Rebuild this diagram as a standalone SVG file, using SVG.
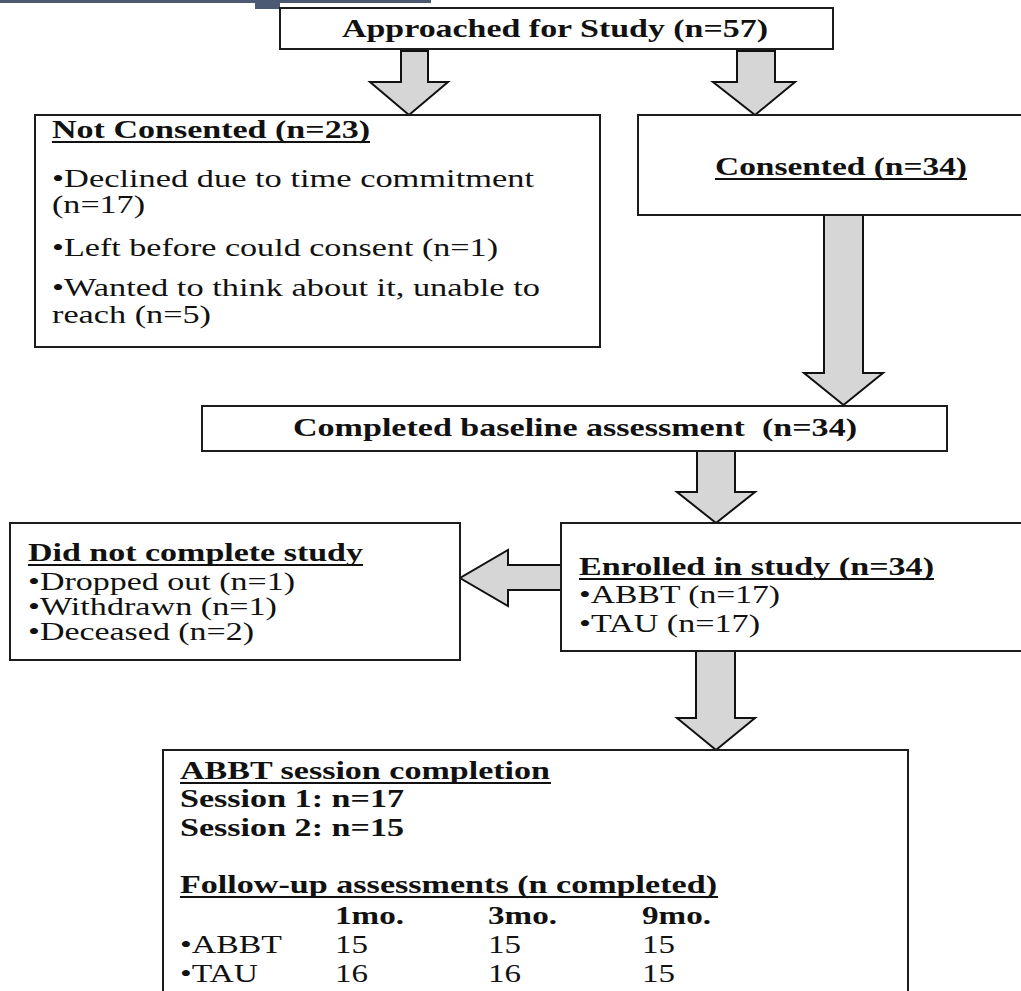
<svg xmlns="http://www.w3.org/2000/svg" width="1021" height="991" viewBox="0 0 1021 991">
<style>
.box{fill:#fff;stroke:#1c1c1c;stroke-width:2}
.arr{fill:#d6d6d6;stroke:#111;stroke-width:2;stroke-linejoin:miter}
.t{font-family:"Liberation Serif","Times New Roman",serif;font-size:26px;fill:#111}
.b{font-weight:bold}
.ul{stroke:#111;stroke-width:2}
</style>
<rect width="1021" height="991" fill="#fff"/>
<g id="header-bar" fill="#4b5a72">
<rect x="0" y="0" width="431" height="3"/>
<rect x="255" y="0" width="25" height="9"/>
</g>
<g id="connectors">
<polygon class="arr" points="401,51 428,51 428,82 448,82 409,115 370,82 401,82"/>
<polygon class="arr" points="737,51 775,51 775,82 795,82 755,115 713,82 737,82"/>
<polygon class="arr" points="824,215 863,215 863,373 883,373 843.5,405 804,373 824,373"/>
<polygon class="arr" points="697,451 735,451 735,492 755,492 716,523 677,492 697,492"/>
<polygon class="arr" points="561,565 508,565 508,550 460,578 508,606 508,590 561,590"/>
<polygon class="arr" points="696,651 735,651 735,718 755,718 716,750 677,718 696,718"/>
</g>
<g id="approached">
<rect class="box" x="280" y="8" width="553" height="41"/>
<text class="t b" x="342" y="37" textLength="426" lengthAdjust="spacingAndGlyphs">Approached for Study (n=57)</text>
</g>
<g id="not-consented">
<rect class="box" x="35" y="115" width="565" height="232"/>
<text class="t b" x="52" y="138" textLength="318" lengthAdjust="spacingAndGlyphs">Not Consented (n=23)</text>
<line class="ul" x1="52" y1="142" x2="370" y2="142"/>
<text class="t" x="52" y="187" textLength="482" lengthAdjust="spacingAndGlyphs">•Declined due to time commitment</text>
<text class="t" x="52" y="213" textLength="93" lengthAdjust="spacingAndGlyphs">(n=17)</text>
<text class="t" x="52" y="256" textLength="446" lengthAdjust="spacingAndGlyphs">•Left before could consent (n=1)</text>
<text class="t" x="52" y="296" textLength="488" lengthAdjust="spacingAndGlyphs">•Wanted to think about it, unable to</text>
<text class="t" x="52" y="323" textLength="159" lengthAdjust="spacingAndGlyphs">reach (n=5)</text>
</g>
<g id="consented">
<rect class="box" x="638" y="115" width="400" height="100"/>
<text class="t b" x="715" y="175" textLength="252" lengthAdjust="spacingAndGlyphs">Consented (n=34)</text>
<line class="ul" x1="715" y1="179" x2="967" y2="179"/>
</g>
<g id="baseline">
<rect class="box" x="202" y="406" width="745" height="45"/>
<text class="t b" x="293" y="436" textLength="564" lengthAdjust="spacingAndGlyphs" xml:space="preserve">Completed baseline assessment  (n=34)</text>
</g>
<g id="did-not-complete">
<rect class="box" x="10" y="523" width="450" height="137"/>
<text class="t b" x="28" y="561" textLength="335" lengthAdjust="spacingAndGlyphs">Did not complete study</text>
<line class="ul" x1="28" y1="565" x2="363" y2="565"/>
<text class="t" x="28" y="590" textLength="267" lengthAdjust="spacingAndGlyphs">•Dropped out (n=1)</text>
<text class="t" x="28" y="615" textLength="249" lengthAdjust="spacingAndGlyphs">•Withdrawn (n=1)</text>
<text class="t" x="28" y="640" textLength="226" lengthAdjust="spacingAndGlyphs">•Deceased (n=2)</text>
</g>
<g id="enrolled">
<rect class="box" x="561" y="523" width="480" height="128"/>
<text class="t b" x="579" y="575" textLength="355" lengthAdjust="spacingAndGlyphs">Enrolled in study (n=34)</text>
<line class="ul" x1="579" y1="579" x2="934" y2="579"/>
<text class="t" x="579" y="603" textLength="201" lengthAdjust="spacingAndGlyphs">•ABBT (n=17)</text>
<text class="t" x="579" y="632" textLength="181" lengthAdjust="spacingAndGlyphs">•TAU (n=17)</text>
</g>
<g id="outcomes">
<rect class="box" x="163" y="750" width="745" height="260"/>
<text class="t b" x="180" y="779" textLength="370" lengthAdjust="spacingAndGlyphs">ABBT session completion</text>
<line class="ul" x1="180" y1="783" x2="551" y2="783"/>
<text class="t b" x="180" y="807" textLength="224" lengthAdjust="spacingAndGlyphs">Session 1: n=17</text>
<text class="t b" x="180" y="836" textLength="224" lengthAdjust="spacingAndGlyphs">Session 2: n=15</text>
<text class="t b" x="180" y="893" textLength="537" lengthAdjust="spacingAndGlyphs">Follow-up assessments (n completed)</text>
<line class="ul" x1="180" y1="897" x2="718" y2="897"/>
<text class="t b" x="335" y="924" textLength="69" lengthAdjust="spacingAndGlyphs">1mo.</text>
<text class="t b" x="488" y="924" textLength="69" lengthAdjust="spacingAndGlyphs">3mo.</text>
<text class="t b" x="642" y="924" textLength="69" lengthAdjust="spacingAndGlyphs">9mo.</text>
<text class="t" x="180" y="953" textLength="102" lengthAdjust="spacingAndGlyphs">•ABBT</text>
<text class="t" x="335" y="953" textLength="33" lengthAdjust="spacingAndGlyphs">15</text>
<text class="t" x="488" y="953" textLength="33" lengthAdjust="spacingAndGlyphs">15</text>
<text class="t" x="642" y="953" textLength="33" lengthAdjust="spacingAndGlyphs">15</text>
<text class="t" x="180" y="982" textLength="78" lengthAdjust="spacingAndGlyphs">•TAU</text>
<text class="t" x="335" y="982" textLength="33" lengthAdjust="spacingAndGlyphs">16</text>
<text class="t" x="488" y="982" textLength="33" lengthAdjust="spacingAndGlyphs">16</text>
<text class="t" x="642" y="982" textLength="33" lengthAdjust="spacingAndGlyphs">15</text>
</g>
</svg>
